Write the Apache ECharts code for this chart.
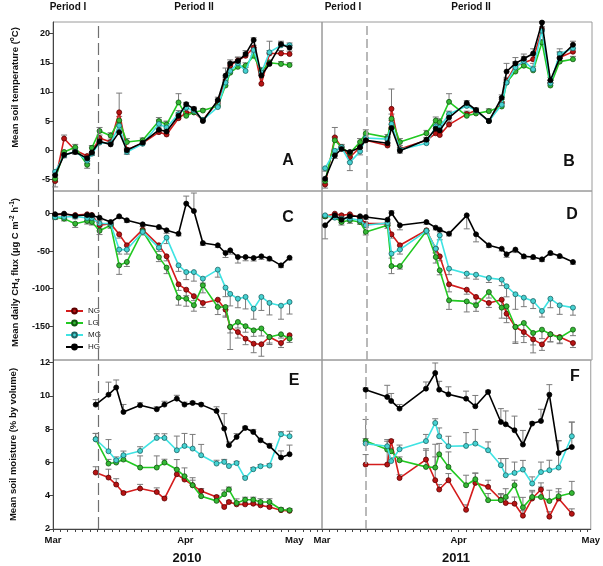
<!DOCTYPE html>
<html>
<head>
<meta charset="utf-8">
<script src="https://cdn.jsdelivr.net/npm/echarts@6/dist/echarts.min.js"></script>
<style>
html, body { margin: 0; padding: 0; background: #fff; }
#main { width: 603px; height: 566px; }
</style>
</head>
<body>
<div id="main"></div>
<script>
// sampling days, counted as days since 1 March
var days2010 = [0.5, 2.6, 5.2, 8.0, 9.1, 10.9, 13.5, 15.5, 17.3, 21.0, 24.8, 26.6, 29.4, 31.2, 33.0, 35.1, 38.6, 40.4, 41.5, 43.3, 45.1, 47.0, 48.8, 50.7, 53.4, 55.4];
var daysMoist2010 = [10.0, 13.0, 14.8, 16.5, 20.4, 24.3, 26.1, 29.0, 30.8, 32.7, 34.7, 38.3, 40.1, 41.2, 43.0, 45.0, 46.9, 48.6, 50.7, 53.4, 55.4];
var days2011 = [0.7, 2.9, 4.4, 6.3, 8.6, 9.9, 14.8, 15.7, 17.6, 23.6, 25.7, 26.6, 28.7, 32.7, 34.8, 37.7, 40.6, 41.7, 43.7, 45.6, 47.7, 49.7, 51.6, 53.7, 56.7];
var daysMoist2011 = [9.9, 14.8, 15.7, 17.6, 23.6, 25.7, 26.6, 28.7, 32.7, 34.8, 37.7, 40.6, 41.7, 43.7, 45.6, 47.7, 49.7, 51.6, 53.7, 56.7];

// axis ticks
var monthNames = ['Mar', 'Apr', 'May'];
var monthDays2010 = [0, 31, 56.5];
var monthDays2011 = [0, 31, 61];
var tempTicks = [-5, 0, 5, 10, 15, 20];
var fluxTicks = [-150, -100, -50, 0];
var moistTicks = [2, 4, 6, 8, 10, 12];
var periodSplit2010 = 10.5;
var periodSplit2011 = 10;

// A: soil temperature 2010
var tempNG10 = [-5.3, 2.0, 0.0, -1.0, -0.4, 2.1, 1.4, 6.5, 0.1, 1.2, 3.1, 2.7, 5.5, 6.4, 6.5, 5.2, 8.3, 11.9, 14.5, 15.4, 16.2, 17.6, 11.4, 16.6, 16.6, 16.5];
var tempLG10 = [-4.9, -0.3, 0.5, -2.5, 0.4, 3.3, 2.5, 5.1, 1.4, 1.7, 5.0, 4.4, 8.2, 5.9, 6.5, 6.8, 7.6, 11.1, 13.3, 14.3, 14.5, 16.2, 13.6, 15.0, 14.8, 14.6];
var tempMG10 = [-3.7, -0.9, -0.2, -1.8, -0.6, 1.3, 1.2, 4.2, -0.3, 1.1, 4.5, 3.9, 6.2, 7.3, 6.8, 5.2, 7.4, 11.6, 13.6, 14.9, 13.6, 17.2, 13.3, 16.8, 18.0, 18.0];
var tempHG10 = [-4.3, -0.8, -0.3, -1.4, -0.4, 1.5, 1.0, 3.1, 0.0, 1.3, 3.5, 3.2, 5.9, 7.9, 7.1, 5.0, 8.6, 12.8, 14.9, 15.3, 16.5, 18.9, 12.8, 14.8, 18.2, 17.6];
var tempErrNG10 = [1.0, 0.6, 0.4, 0.4, 0.4, 0.5, 0.5, 3.3, 0.3, 0.4, 0.5, 0.4, 0.4, 0.3, 0.3, 0.3, 0.4, 0.6, 0.6, 0.6, 0.6, 0.4, 1.5, 0.5, 0.5, 0.5];
var tempErrLG10 = [0.5, 0.4, 0.5, 0.6, 0.4, 0.6, 0.5, 0.7, 0.6, 0.4, 0.6, 0.6, 1.5, 0.4, 0.3, 0.3, 0.4, 0.5, 0.6, 0.6, 0.5, 0.5, 0.6, 0.5, 0.4, 0.4];
var tempErrMG10 = [0.5, 0.4, 0.4, 0.5, 0.3, 0.4, 0.4, 0.5, 0.4, 0.4, 0.7, 1.0, 0.6, 0.3, 0.4, 0.3, 0.5, 0.6, 0.5, 0.6, 0.6, 0.4, 0.8, 1.9, 0.5, 0.4];
var tempErrHG10 = [0.5, 0.4, 0.4, 0.5, 0.4, 0.4, 0.4, 0.5, 0.4, 0.4, 0.5, 0.4, 0.5, 0.3, 0.3, 0.3, 0.5, 1.3, 0.6, 0.6, 0.6, 0.4, 0.6, 0.6, 0.5, 0.4];

// B: soil temperature 2011
var tempNG11 = [-5.9, 2.2, 0.5, -1.2, 0.5, 1.7, 0.8, 7.1, 0.2, 1.7, 2.9, 2.6, 4.4, 6.2, 6.8, 5.0, 8.2, 11.9, 14.5, 15.0, 15.6, 20.7, 11.5, 15.9, 16.9];
var tempLG11 = [-5.3, 1.7, 0.5, -0.5, 1.4, 2.9, 2.2, 5.4, 1.4, 2.9, 5.1, 4.8, 8.3, 5.9, 6.3, 6.7, 7.5, 11.6, 13.5, 14.5, 13.7, 18.5, 11.1, 15.2, 15.6];
var tempMG11 = [-3.1, -0.1, 0.5, -2.1, -0.2, 2.1, 1.9, 4.5, 0.1, 1.2, 4.1, 3.9, 6.2, 7.6, 6.8, 5.0, 7.8, 11.6, 14.2, 15.3, 13.9, 20.5, 11.5, 16.5, 17.5];
var tempHG11 = [-4.9, -0.9, 0.2, -0.3, 0.5, 1.7, 1.2, 3.8, -0.1, 1.8, 3.7, 3.4, 5.6, 8.1, 6.9, 5.0, 9.0, 13.5, 14.9, 15.7, 16.6, 21.9, 12.0, 15.8, 18.1];
var tempErrNG11 = [0.6, 1.7, 0.5, 0.8, 0.4, 0.5, 0.5, 3.4, 0.6, 0.4, 0.5, 0.5, 0.6, 0.5, 0.4, 0.4, 0.5, 0.6, 0.6, 0.6, 0.6, 0.5, 0.5, 1.0, 0.5];
var tempErrLG11 = [0.5, 0.6, 0.4, 0.6, 0.6, 0.6, 0.5, 0.8, 0.6, 0.5, 0.6, 0.6, 1.4, 0.6, 0.4, 0.4, 0.5, 0.6, 0.6, 0.6, 0.7, 0.5, 0.5, 0.6, 0.5];
var tempErrMG11 = [0.5, 0.6, 0.4, 1.4, 0.6, 0.5, 0.4, 0.6, 0.4, 0.5, 0.6, 0.6, 0.5, 0.4, 0.4, 0.4, 0.5, 0.6, 1.0, 0.8, 1.0, 0.5, 0.5, 0.9, 0.6];
var tempErrHG11 = [0.5, 0.5, 0.4, 0.5, 0.4, 0.4, 0.4, 0.6, 0.4, 0.4, 0.5, 0.5, 0.5, 0.4, 0.3, 0.4, 0.5, 1.4, 1.0, 0.8, 0.8, 0.2, 0.5, 1.0, 0.6];

// C: daily CH4 flux 2010
var fluxNG10 = [-1.5, -1, -2, -1, -2, -15.7, -13.5, -27.7, -42.3, -21.5, -42.3, -57, -94.3, -101.4, -110, -119, -114.7, -128, -151, -157.8, -166.6, -173.3, -174, -164.4, -172.4, -162];
var fluxLG10 = [-5, -6.8, -13.5, -10, -11.3, -23, -15.7, -69, -64.5, -23.2, -58, -72, -112, -113.4, -122, -95.6, -124.5, -124.5, -151, -144.4, -150, -155.5, -153, -164.4, -160.8, -166.6];
var fluxMG10 = [-4.6, -4.6, -4, -6, -6, -13, -13.5, -48, -48, -24.5, -45.4, -32, -69, -78, -78, -86.7, -74.7, -98.7, -107, -113.4, -111, -126.7, -111, -119, -122.7, -117.8];
var fluxHG10 = [-1, -0.2, -3, -2, -2.4, -5.5, -11.3, -3.7, -9, -14.4, -17.9, -22.3, -26.8, 13.2, 3.3, -39.3, -42.3, -52.5, -49, -57.9, -57.9, -59.2, -57, -60, -69, -58.8];
var fluxErrNG10 = [2, 2, 3, 3, 3, 4, 3, 5, 6, 4, 5, 6, 8, 8, 6, 6, 10, 10, 8, 8, 8, 12, 16, 10, 6, 5];
var fluxErrLG10 = [3, 3, 5, 4, 4, 5, 4, 12, 6, 4, 6, 8, 10, 10, 8, 10, 10, 12, 30, 8, 8, 8, 10, 8, 5, 5];
var fluxErrMG10 = [2, 2, 3, 3, 3, 4, 3, 6, 6, 4, 5, 8, 8, 10, 12, 6, 10, 12, 16, 12, 16, 14, 18, 16, 18, 16];
var fluxErrHG10 = [2, 2, 2, 2, 2, 4, 3, 3, 3, 3, 3, 4, 3, 10, 24, 3, 3, 6, 5, 8, 5, 4, 4, 3, 3, 3];

// D: daily CH4 flux 2011
var fluxNG11 = [-3.7, -0.2, -2.4, -1, -5.5, -13.5, -13.5, -27.7, -42.3, -22.3, -46.8, -57, -94.3, -101.4, -111, -119, -114.7, -133.3, -151, -157.8, -167.5, -174.2, -160.8, -164.4, -172.4];
var fluxLG11 = [-3.7, -4.6, -11.3, -9, -11.3, -24.5, -15.7, -70, -70, -23.2, -57.9, -75.6, -115.6, -117, -122.2, -104.5, -125.3, -123.5, -151, -145.7, -159, -154.6, -160.8, -165.3, -154.6];
var fluxMG11 = [-2.4, -5.5, -6.8, -6.8, -9, -15.7, -12.6, -53.4, -48, -23.2, -46.8, -29, -73.4, -80, -81.4, -85.8, -88, -96.9, -107.5, -112, -116.5, -129.8, -113.4, -122.2, -125.3];
var fluxHG11 = [-15.7, -2.4, -8.2, -3.7, -3.7, -4.6, -8.2, 0.7, -15.7, -11.3, -18.8, -21.5, -26.8, -2.4, -27.7, -42.3, -46.8, -54.3, -48, -57, -57.9, -61, -52.5, -56.6, -64.5];
var fluxErrNG11 = [2, 2, 2, 2, 2, 3, 3, 5, 6, 4, 6, 6, 10, 6, 8, 6, 10, 12, 20, 14, 18, 8, 10, 8, 6];
var fluxErrLG11 = [2, 3, 4, 4, 3, 4, 4, 10, 4, 4, 8, 6, 12, 14, 8, 8, 14, 16, 22, 18, 16, 12, 10, 8, 8];
var fluxErrMG11 = [2, 2, 2, 2, 2, 3, 3, 6, 6, 4, 5, 6, 8, 6, 6, 6, 8, 14, 20, 12, 10, 8, 12, 12, 10];
var fluxErrHG11 = [18, 3, 4, 3, 2, 3, 3, 3, 6, 3, 3, 3, 3, 18, 10, 3, 3, 4, 4, 3, 3, 3, 3, 3, 3];

// E: soil moisture 2010
var moistNG10 = [5.39, 5.09, 4.67, 4.16, 4.43, 4.22, 3.83, 5.29, 4.97, 4.63, 4.28, 3.92, 3.32, 3.62, 3.48, 3.48, 3.52, 3.42, 3.32, 3.13, 3.09];
var moistLG10 = [7.39, 5.93, 5.99, 6.17, 5.69, 5.69, 5.99, 5.57, 5.17, 4.63, 3.97, 3.69, 4.09, 4.37, 3.56, 3.76, 3.76, 3.62, 3.62, 3.17, 3.13];
var moistMG10 = [7.39, 6.67, 6.13, 6.43, 6.69, 7.47, 7.47, 6.73, 6.99, 6.83, 6.43, 5.93, 6.03, 5.78, 5.96, 5.06, 5.59, 5.77, 5.81, 7.69, 7.57];
var moistHG10 = [9.47, 10.07, 10.5, 9.03, 9.43, 9.19, 9.47, 9.83, 9.47, 9.57, 9.47, 9.09, 8.03, 7.03, 7.53, 8.07, 7.83, 7.33, 6.99, 6.29, 6.49];
var moistErrNG10 = [0.35, 0.5, 0.35, 0.1, 0.25, 0.25, 0.1, 0.3, 0.2, 0.3, 0.15, 0.1, 0.1, 0.1, 0.1, 0.1, 0.1, 0.1, 0.1, 0.1, 0.05];
var moistErrLG10 = [0.35, 0.25, 0.2, 0.2, 0.7, 0.7, 0.2, 0.6, 0.5, 0.45, 0.3, 0.25, 0.25, 0.15, 0.25, 0.15, 0.15, 0.2, 0.2, 0.1, 0.1];
var moistErrMG10 = [0.35, 0.7, 0.2, 0.25, 0.25, 0.25, 0.25, 0.85, 0.75, 0.85, 0.65, 0.2, 0.15, 0.1, 0.1, 0.1, 0.1, 0.1, 0.1, 0.15, 0.3];
var moistErrHG10 = [0.3, 0.75, 0.45, 0.45, 0.15, 0.15, 0.2, 0.2, 0.15, 0.1, 0.1, 0.25, 0.9, 0.2, 0.2, 0.1, 0.15, 0.1, 0.15, 0.4, 0.55];

// F: soil moisture 2011
var moistNG11 = [5.87, 5.87, 7.28, 5.06, 6.17, 4.93, 4.37, 4.93, 3.15, 4.77, 4.53, 3.76, 3.56, 3.52, 2.8, 3.83, 4.37, 2.74, 3.83, 2.91];
var moistLG11 = [7.28, 6.77, 6.67, 6.13, 5.73, 5.69, 6.49, 5.73, 4.63, 4.99, 3.73, 3.73, 3.92, 4.63, 3.3, 3.92, 3.92, 3.68, 3.97, 4.16];
var moistMG11 = [7.13, 6.97, 6.08, 6.79, 7.28, 8.37, 7.57, 6.97, 6.99, 7.13, 6.73, 5.83, 5.23, 5.37, 5.57, 4.73, 5.42, 5.53, 5.69, 7.57];
var moistHG11 = [10.37, 9.93, 9.69, 9.23, 10.43, 11.37, 10.37, 10.09, 9.83, 9.37, 10.23, 8.43, 8.29, 7.93, 7.07, 8.33, 8.49, 10.07, 6.56, 6.92];
var moistErrNG11 = [0.6, 1.5, 0.1, 0.2, 0.65, 1.4, 0.3, 0.4, 0.3, 0.6, 0.4, 0.3, 0.3, 0.4, 0.3, 0.4, 0.4, 0.3, 0.4, 0.3];
var moistErrLG11 = [0.15, 0.2, 0.2, 0.2, 1.0, 1.4, 0.65, 0.9, 0.6, 0.35, 0.4, 0.4, 0.5, 0.3, 0.6, 0.4, 0.6, 0.65, 0.45, 0.7];
var moistErrMG11 = [1.45, 0.3, 0.2, 0.25, 0.4, 0.25, 0.5, 0.6, 0.8, 0.85, 0.5, 0.4, 1.0, 0.65, 0.55, 0.4, 0.6, 0.6, 1.6, 0.85];
var moistErrHG11 = [0.1, 0.7, 0.45, 0.25, 0.4, 0.6, 0.5, 0.45, 0.45, 0.65, 0.1, 0.8, 0.8, 0.85, 0.85, 0.1, 0.7, 0.6, 0.75, 1.5];

var FONT = '"Liberation Sans", Arial, Helvetica, sans-serif';
var groups = [
    {name: 'NG', line: '#d41c1c', fill: '#b81414', edge: '#5c0000'},
    {name: 'LG', line: '#22c922', fill: '#35b835', edge: '#0e560e'},
    {name: 'MG', line: '#3fe3e3', fill: '#45d2d2', edge: '#1c6464'},
    {name: 'HG', line: '#000000', fill: '#000000', edge: '#000000'}
];

var panels = [
    {days: days2010, vals: [tempNG10, tempLG10, tempMG10, tempHG10], errs: [tempErrNG10, tempErrLG10, tempErrMG10, tempErrHG10], split: periodSplit2010},
    {days: days2011, vals: [tempNG11, tempLG11, tempMG11, tempHG11], errs: [tempErrNG11, tempErrLG11, tempErrMG11, tempErrHG11], split: periodSplit2011},
    {days: days2010, vals: [fluxNG10, fluxLG10, fluxMG10, fluxHG10], errs: [fluxErrNG10, fluxErrLG10, fluxErrMG10, fluxErrHG10], split: periodSplit2010},
    {days: days2011, vals: [fluxNG11, fluxLG11, fluxMG11, fluxHG11], errs: [fluxErrNG11, fluxErrLG11, fluxErrMG11, fluxErrHG11], split: periodSplit2011},
    {days: daysMoist2010, vals: [moistNG10, moistLG10, moistMG10, moistHG10], errs: [moistErrNG10, moistErrLG10, moistErrMG10, moistErrHG10], split: periodSplit2010},
    {days: daysMoist2011, vals: [moistNG11, moistLG11, moistMG11, moistHG11], errs: [moistErrNG11, moistErrLG11, moistErrMG11, moistErrHG11], split: periodSplit2011}
];

var rows = [
    {top: 22, min: -7, max: 22, ticks: tempTicks, name: 'Mean soil temperature ({sup|o}C)', gap: 31, pad: [0, 0, 0, 38]},
    {top: 191, min: -195, max: 30, ticks: fluxTicks, name: 'Mean daily CH{sub|4} flux (\u00b5g C m{sup|-2} h{sup|-1})', gap: 31, pad: [0, 0, 0, 6]},
    {top: 360, min: 2, max: 12.15, ticks: moistTicks, name: 'Mean soil moisture (% by volume)', gap: 33, pad: 0}
];

function minorTicks(maxDay) {
    var t = [];
    for (var d = 0; d <= maxDay + 0.01; d += 31 / 18) t.push(+d.toFixed(2));
    return t;
}

function errorBar(params, api) {
    var x = api.value(0), y = api.value(1), e = api.value(2);
    var y2 = y >= 0 ? y + e : y - e;
    var p1 = api.coord([x, y]);
    var p2 = api.coord([x, y2]);
    var w = 3;
    var st = {stroke: '#7a7a7a', lineWidth: 1};
    return {
        type: 'group',
        children: [
            {type: 'line', shape: {x1: p1[0], y1: p1[1], x2: p2[0], y2: p2[1]}, style: st},
            {type: 'line', shape: {x1: p2[0] - w, y1: p2[1], x2: p2[0] + w, y2: p2[1]}, style: st}
        ]
    };
}

var grid = [], xAxis = [], yAxis = [], series = [];

for (var i = 0; i < 6; i++) {
    var col = i % 2, row = Math.floor(i / 2);
    var r = rows[row];
    var maxDay = col == 0 ? 63 : 61;
    var months = col == 0 ? monthDays2010 : monthDays2011;
    var bottom = row == 2;
    grid.push({
        left: col == 0 ? 53 : 322, top: r.top, width: col == 0 ? 269 : 270, height: 169,
        show: true, borderColor: '#9a9a9a', borderWidth: 1
    });
    xAxis.push({
        type: 'value', gridIndex: i, min: 0, max: maxDay, show: bottom,
        splitLine: {show: false},
        axisLine: {show: true, lineStyle: {color: '#444'}},
        axisTick: {show: true, length: 3, customValues: minorTicks(maxDay), lineStyle: {color: '#444'}},
        axisLabel: {
            customValues: months, margin: 6, fontSize: 9.5, fontWeight: 'bold', color: '#111', fontFamily: FONT,
            formatter: (function (m) {
                return function (v) {
                    for (var k = 0; k < m.length; k++) if (Math.abs(m[k] - v) < 0.01) return monthNames[k];
                    return '';
                };
            })(months)
        }
    });
    var ya = {
        type: 'value', gridIndex: i, min: r.min, max: r.max, show: col == 0,
        splitLine: {show: false},
        axisLine: {show: true, lineStyle: {color: '#444'}},
        axisTick: {show: true, length: 4, customValues: r.ticks, lineStyle: {color: '#444'}},
        axisLabel: {customValues: r.ticks, margin: 3, fontSize: 9, fontWeight: 'bold', color: '#111', fontFamily: FONT}
    };
    if (col == 0) {
        ya.name = r.name;
        ya.nameLocation = 'middle';
        ya.nameRotate = 90;
        ya.nameGap = r.gap;
        ya.nameTextStyle = {
            fontSize: 9.5, fontWeight: 'bold', color: '#111', fontFamily: FONT, lineHeight: 13, padding: r.pad,
            rich: {
                sup: {fontSize: 6.5, fontWeight: 'bold', color: '#111', fontFamily: FONT, verticalAlign: 'top', lineHeight: 13, padding: [0, 0, 5, 0]},
                sub: {fontSize: 6.5, fontWeight: 'bold', color: '#111', fontFamily: FONT, verticalAlign: 'bottom', lineHeight: 13, padding: [4, 0, 0, 0]}
            }
        };
    }
    yAxis.push(ya);

    var p = panels[i];
    // error bars first so the lines sit on top
    for (var g = 0; g < 4; g++) {
        series.push({
            type: 'custom', name: groups[g].name + ' se', xAxisIndex: i, yAxisIndex: i, z: 1,
            renderItem: errorBar, silent: true,
            encode: {x: 0, y: 1},
            data: p.days.map(function (d, k) { return [d, this.v[k], this.e[k]]; }, {v: p.vals[g], e: p.errs[g]})
        });
    }
    for (var g = 0; g < 4; g++) {
        var s = {
            type: 'line', name: groups[g].name, xAxisIndex: i, yAxisIndex: i, z: 2 + g,
            symbol: 'circle', symbolSize: 5, showAllSymbol: true,
            lineStyle: {color: groups[g].line, width: 1.6},
            itemStyle: {color: groups[g].fill, borderColor: groups[g].edge, borderWidth: 0.8},
            data: p.days.map(function (d, k) { return [d, this[k]]; }, p.vals[g])
        };
        if (g == 3) {
            s.markLine = {
                silent: true, symbol: 'none', label: {show: false},
                lineStyle: {type: col == 0 ? [12, 5] : [9, 4], color: col == 0 ? '#707070' : '#a8a8a8', width: col == 0 ? 1.2 : 1.6},
                data: [{xAxis: p.split}]
            };
        }
        series.push(s);
    }
}

var graphicText = [
    ['Period I', 68, 7, 10], ['Period II', 194, 7, 10], ['Period I', 343, 7, 10], ['Period II', 471, 7, 10],
    ['A', 288, 161, 16], ['B', 569, 162, 16], ['C', 288, 218, 16], ['D', 572, 215, 16], ['E', 294, 381, 16], ['F', 575, 377, 16],
    ['2010', 187, 558, 13], ['2011', 456, 558, 13]
];

var myChart = echarts.init(document.getElementById('main'));
var option = {
    animation: false,
    textStyle: {fontFamily: FONT},
    grid: grid,
    xAxis: xAxis,
    yAxis: yAxis,
    legend: {
        data: ['NG', 'LG', 'MG', 'HG'],
        orient: 'vertical', left: 60, top: 302,
        itemWidth: 17, itemHeight: 6, itemGap: 4,
        textStyle: {fontSize: 8, color: '#222', fontFamily: FONT}
    },
    graphic: graphicText.map(function (t) {
        return {
            type: 'text', x: t[1], y: t[2], silent: true,
            style: {text: t[0], fontSize: t[3], fontWeight: 'bold', fill: '#111', font: 'bold ' + t[3] + 'px ' + FONT, textAlign: 'center', textVerticalAlign: 'middle'}
        };
    }),
    series: series
};
myChart.setOption(option);
</script>
</body>
</html>
